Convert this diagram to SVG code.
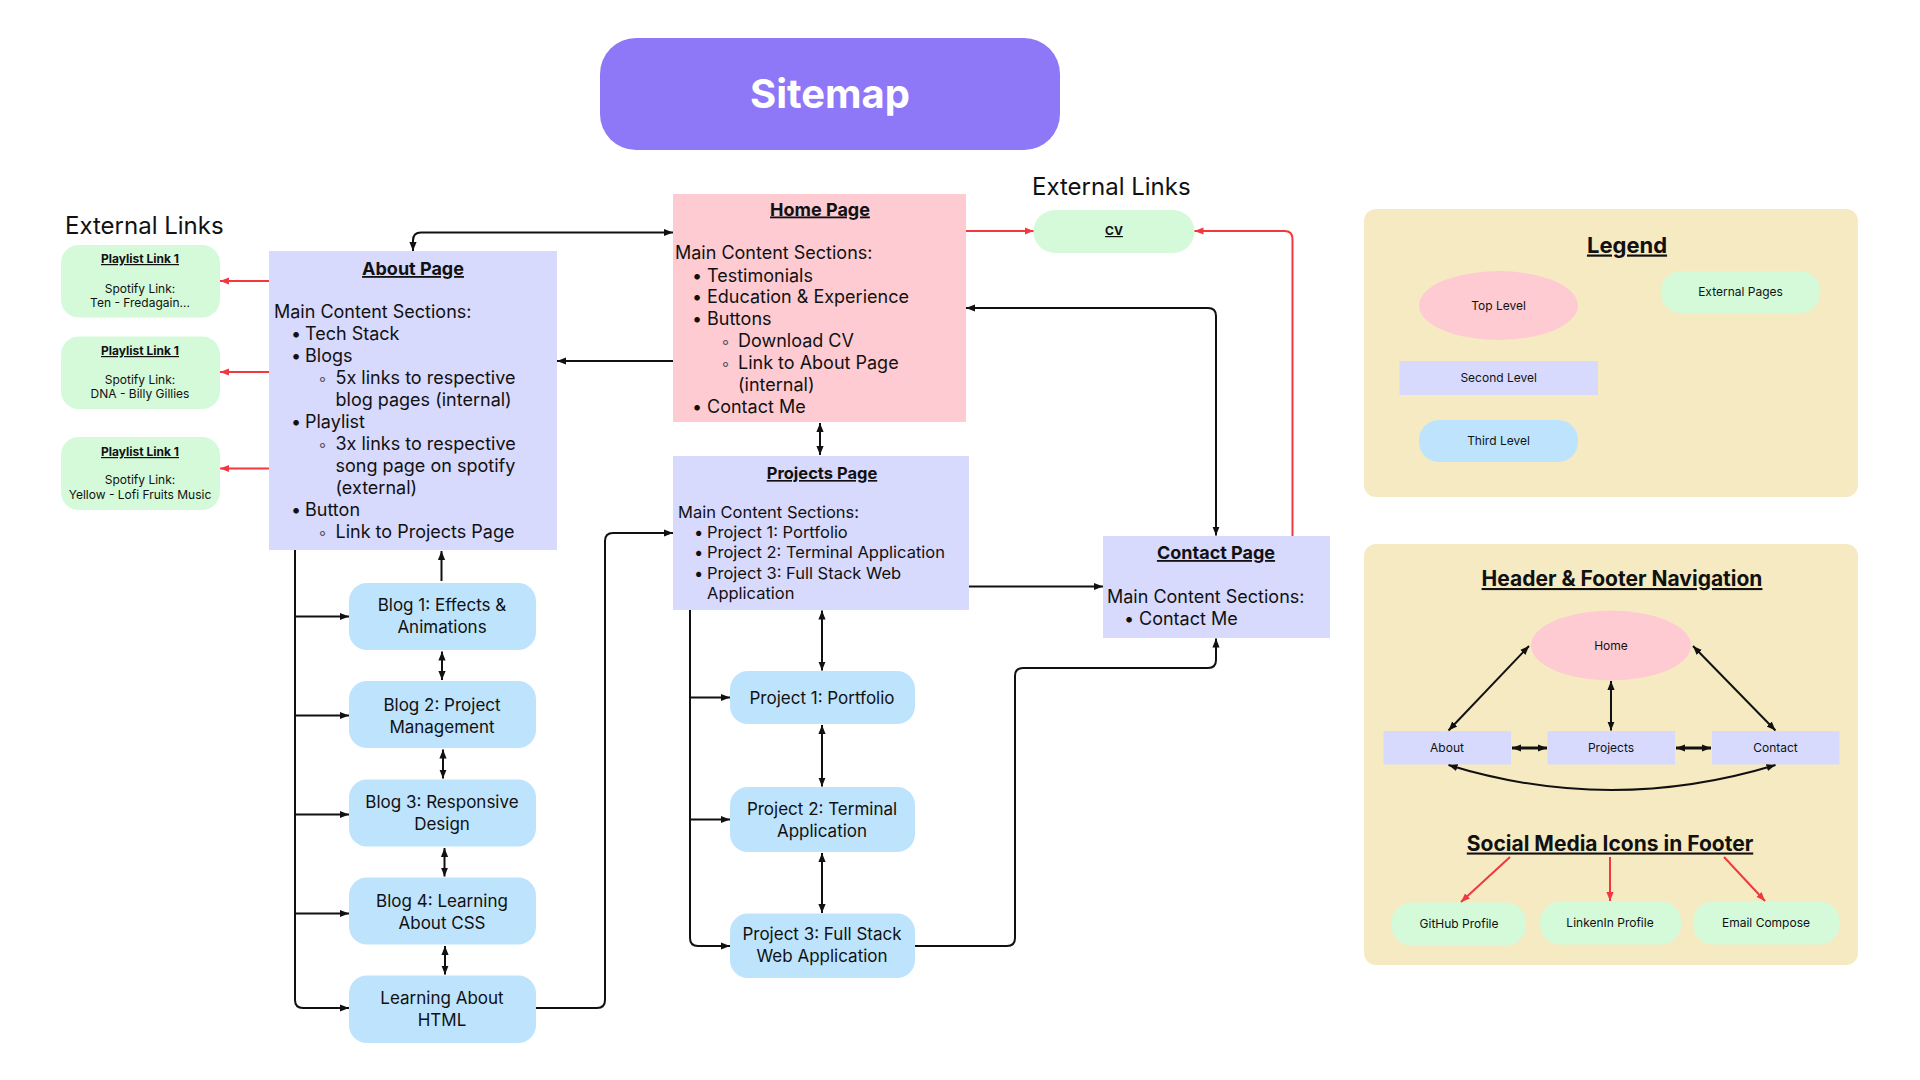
<svg xmlns="http://www.w3.org/2000/svg" width="1920" height="1080" viewBox="0 0 1920 1080">
<defs>
<style>
text{font-family:Inter,"Liberation Sans",sans-serif;fill:#111}
.b{font-weight:700;text-decoration:underline}
.c{text-anchor:middle}
.t18{font-size:18px}
.t17{font-size:17px}
.t16{font-size:16.5px}
.t12{font-size:12px}
.sb{font-size:16px;fill:#555}
.ln{fill:none;stroke:#111;stroke-width:2}
.ln3{fill:none;stroke:#111;stroke-width:3}
.rd{fill:none;stroke:#f0383e;stroke-width:2}
.lav{fill:#d7d9fd}
.pink{fill:#fecbd2}
.blue{fill:#bee3fd}
.mint{fill:#d4fada}
.beige{fill:#f6eac3}
</style>
<marker id="a" viewBox="0 0 10 10" refX="10" refY="5" markerWidth="9" markerHeight="9" markerUnits="userSpaceOnUse" orient="auto-start-reverse"><path d="M0,1 L10,5 L0,9 z" fill="#111"/></marker>
<marker id="r" viewBox="0 0 10 10" refX="10" refY="5" markerWidth="9" markerHeight="9" markerUnits="userSpaceOnUse" orient="auto-start-reverse"><path d="M0,1 L10,5 L0,9 z" fill="#f0383e"/></marker>
</defs>
<rect width="1920" height="1080" fill="#fff"/>

<g id="title">
<rect x="600" y="38" width="460" height="112" rx="36" fill="#8f78f8"/>
<text x="830" y="108" class="c" style="font-size:40px;font-weight:700;fill:#fff">Sitemap</text>
</g>

<g id="ext-left-label"><text x="65" y="234" style="font-size:24px">External Links</text></g>
<g id="ext-right-label"><text x="1032" y="195" style="font-size:24px">External Links</text></g>

<g id="home">
<rect x="673" y="194" width="293" height="228" class="pink"/>
<text x="820" y="215.5" class="c b t18">Home Page</text>
<g class="t18">
<text x="675" y="259">Main Content Sections:</text>
<text x="692" y="281.5">•</text><text x="707" y="281.5">Testimonials</text>
<text x="692" y="303">•</text><text x="707" y="303">Education &amp; Experience</text>
<text x="692" y="325">•</text><text x="707" y="325">Buttons</text>
<text x="721" y="347" class="sb">◦</text><text x="738" y="347">Download CV</text>
<text x="721" y="369" class="sb">◦</text><text x="738" y="369">Link to About Page</text>
<text x="738" y="391">(internal)</text>
<text x="692" y="413">•</text><text x="707" y="413">Contact Me</text>
</g>
</g>

<g id="about">
<rect x="269" y="251" width="288" height="299" class="lav"/>
<text x="413" y="275" class="c b t18">About Page</text>
<g class="t18">
<text x="274" y="318">Main Content Sections:</text>
<text x="291" y="340">•</text><text x="305" y="340">Tech Stack</text>
<text x="291" y="362">•</text><text x="305" y="362">Blogs</text>
<text x="318" y="384" class="sb">◦</text><text x="335.5" y="384">5x links to respective</text>
<text x="335.5" y="405.5">blog pages (internal)</text>
<text x="291" y="428">•</text><text x="305" y="428">Playlist</text>
<text x="318" y="450" class="sb">◦</text><text x="335.5" y="450">3x links to respective</text>
<text x="335.5" y="472">song page on spotify</text>
<text x="335.5" y="494">(external)</text>
<text x="291" y="516">•</text><text x="305" y="516">Button</text>
<text x="318" y="538" class="sb">◦</text><text x="335.5" y="538">Link to Projects Page</text>
</g>
</g>

<g id="projects">
<rect x="673" y="456" width="296" height="154" class="lav"/>
<text x="822" y="479" class="c b t16">Projects Page</text>
<g class="t16">
<text x="678" y="518">Main Content Sections:</text>
<text x="694" y="538">•</text><text x="707" y="538">Project 1: Portfolio</text>
<text x="694" y="558">•</text><text x="707" y="558">Project 2: Terminal Application</text>
<text x="694" y="578.5">•</text><text x="707" y="578.5">Project 3: Full Stack Web</text>
<text x="707" y="599">Application</text>
</g>
</g>

<g id="contact">
<rect x="1103" y="536" width="227" height="102" class="lav"/>
<text x="1216" y="559" class="c b t18">Contact Page</text>
<g class="t18">
<text x="1107" y="603">Main Content Sections:</text>
<text x="1124" y="625">•</text><text x="1139" y="625">Contact Me</text>
</g>
</g>

<g id="cv">
<rect x="1033.5" y="210" width="161" height="43" rx="21.5" class="mint"/>
<text x="1114" y="235" class="c b t12">CV</text>
</g>

<g id="playlist1">
<rect x="61" y="245" width="159" height="72.6" rx="18" class="mint"/>
<text x="140" y="263" class="c b t12">Playlist Link 1</text>
<text x="140" y="292.5" class="c t12">Spotify Link:</text>
<text x="140" y="307" class="c t12">Ten - Fredagain...</text>
</g>
<g id="playlist2">
<rect x="61" y="336.5" width="159" height="72.5" rx="18" class="mint"/>
<text x="140" y="355" class="c b t12">Playlist Link 1</text>
<text x="140" y="384" class="c t12">Spotify Link:</text>
<text x="140" y="398" class="c t12">DNA - Billy Gillies</text>
</g>
<g id="playlist3">
<rect x="61" y="437" width="159" height="73" rx="18" class="mint"/>
<text x="140" y="456" class="c b t12">Playlist Link 1</text>
<text x="140" y="484" class="c t12">Spotify Link:</text>
<text x="140" y="499" class="c t12">Yellow - Lofi Fruits Music</text>
</g>

<g id="blog1"><rect x="349" y="583" width="187" height="67" rx="18" class="blue"/>
<text x="442" y="611" class="c t17">Blog 1: Effects &amp;</text><text x="442" y="633" class="c t17">Animations</text></g>
<g id="blog2"><rect x="349" y="681" width="187" height="67" rx="18" class="blue"/>
<text x="442" y="711" class="c t17">Blog 2: Project</text><text x="442" y="733" class="c t17">Management</text></g>
<g id="blog3"><rect x="349" y="779.5" width="187" height="67" rx="18" class="blue"/>
<text x="442" y="808" class="c t17">Blog 3: Responsive</text><text x="442" y="830" class="c t17">Design</text></g>
<g id="blog4"><rect x="349" y="877.5" width="187" height="67" rx="18" class="blue"/>
<text x="442" y="906.5" class="c t17">Blog 4: Learning</text><text x="442" y="928.5" class="c t17">About CSS</text></g>
<g id="html"><rect x="349" y="975.5" width="187" height="67.5" rx="18" class="blue"/>
<text x="442" y="1004" class="c t17">Learning About</text><text x="442" y="1026" class="c t17">HTML</text></g>

<g id="proj1"><rect x="730" y="671" width="185" height="53" rx="18" class="blue"/>
<text x="822" y="704" class="c t17">Project 1: Portfolio</text></g>
<g id="proj2"><rect x="730" y="787" width="185" height="65" rx="18" class="blue"/>
<text x="822" y="815" class="c t17">Project 2: Terminal</text><text x="822" y="837" class="c t17">Application</text></g>
<g id="proj3"><rect x="730" y="913.5" width="185" height="64.5" rx="18" class="blue"/>
<text x="822" y="940" class="c t17">Project 3: Full Stack</text><text x="822" y="962" class="c t17">Web Application</text></g>

<g id="legend">
<rect x="1364" y="209" width="494" height="288" rx="12" class="beige"/>
<text x="1627" y="252.5" class="c b" style="font-size:22px">Legend</text>
<ellipse cx="1498.5" cy="305.5" rx="79.5" ry="34.5" class="pink"/>
<text x="1498.5" y="309.5" class="c t12">Top Level</text>
<rect x="1661" y="271" width="159" height="42" rx="20" class="mint"/>
<text x="1740.5" y="296" class="c t12">External Pages</text>
<rect x="1399.5" y="361" width="198.5" height="34" class="lav"/>
<text x="1498.7" y="382" class="c t12">Second Level</text>
<rect x="1419" y="420" width="159" height="42" rx="20" class="blue"/>
<text x="1498.5" y="445" class="c t12">Third Level</text>
</g>

<g id="nav-panel">
<rect x="1364" y="544" width="494" height="421" rx="12" class="beige"/>
<text x="1622" y="586" class="c b" style="font-size:21px">Header &amp; Footer Navigation</text>
<g id="nav-home"><ellipse cx="1611" cy="645.5" rx="80" ry="35" class="pink"/><text x="1611" y="649.5" class="c t12">Home</text></g>
<g id="nav-about"><rect x="1383.5" y="731" width="127.5" height="33.5" class="lav"/><text x="1447" y="752" class="c t12">About</text></g>
<g id="nav-projects"><rect x="1547.5" y="731" width="127.5" height="33.5" class="lav"/><text x="1611" y="752" class="c t12">Projects</text></g>
<g id="nav-contact"><rect x="1712" y="731" width="127.5" height="33.5" class="lav"/><text x="1775.5" y="752" class="c t12">Contact</text></g>
<text x="1610" y="850.5" class="c b" style="font-size:21px">Social Media Icons in Footer</text>
<g id="nav-github"><rect x="1391.5" y="902.5" width="134.5" height="43" rx="20" class="mint"/><text x="1459" y="928" class="c t12">GitHub Profile</text></g>
<g id="nav-linkedin"><rect x="1540" y="901.5" width="141" height="43" rx="20" class="mint"/><text x="1610" y="927" class="c t12">LinkenIn Profile</text></g>
<g id="nav-email"><rect x="1693" y="901.5" width="146.5" height="43" rx="20" class="mint"/><text x="1766" y="927" class="c t12">Email Compose</text></g>
</g>

<g id="connectors">
<path class="ln" marker-end="url(#a)" d="M673,361 H557"/>
<path class="ln" marker-start="url(#a)" marker-end="url(#a)" d="M673,232.5 H421 Q413,232.5 413,240.5 V251"/>
<path class="ln" marker-start="url(#a)" marker-end="url(#a)" d="M820,423 V455"/>
<path class="rd" marker-end="url(#r)" d="M269,281 H220"/>
<path class="rd" marker-end="url(#r)" d="M269,372 H220"/>
<path class="rd" marker-end="url(#r)" d="M269,468.5 H220"/>
<path class="ln" marker-end="url(#a)" d="M441.5,581 V551"/>
<path class="ln" marker-end="url(#a)" d="M295,550 V1000 Q295,1008 303,1008 H349"/>
<path class="ln" marker-end="url(#a)" d="M295,616.5 H349"/>
<path class="ln" marker-end="url(#a)" d="M295,715.5 H349"/>
<path class="ln" marker-end="url(#a)" d="M295,814.5 H349"/>
<path class="ln" marker-end="url(#a)" d="M295,913.5 H349"/>
<path class="ln" marker-start="url(#a)" marker-end="url(#a)" d="M442,651.5 V680"/>
<path class="ln" marker-start="url(#a)" marker-end="url(#a)" d="M443,749.5 V778.5"/>
<path class="ln" marker-start="url(#a)" marker-end="url(#a)" d="M444.5,848 V876.5"/>
<path class="ln" marker-start="url(#a)" marker-end="url(#a)" d="M445,946 V974.5"/>
<path class="ln" marker-end="url(#a)" d="M536,1008 H597 Q605,1008 605,1000 V541 Q605,533 613,533 H673"/>
<path class="ln" marker-end="url(#a)" d="M690,610 V938 Q690,946 698,946 H730"/>
<path class="ln" marker-end="url(#a)" d="M690,697.5 H730"/>
<path class="ln" marker-end="url(#a)" d="M690,819.5 H730"/>
<path class="ln" marker-start="url(#a)" marker-end="url(#a)" d="M822,610.5 V670.5"/>
<path class="ln" marker-start="url(#a)" marker-end="url(#a)" d="M822,725 V786.5"/>
<path class="ln" marker-start="url(#a)" marker-end="url(#a)" d="M822,853 V913"/>
<path class="ln" marker-end="url(#a)" d="M915,946 H1007 Q1015,946 1015,938 V676 Q1015,668 1023,668 H1208 Q1216,668 1216,660 V638.5"/>
<path class="ln" marker-end="url(#a)" d="M969,586.5 H1103"/>
<path class="ln" marker-start="url(#a)" marker-end="url(#a)" d="M966,308 H1208 Q1216,308 1216,316 V535.5"/>
<path class="rd" marker-end="url(#r)" d="M966,231 H1033.5"/>
<path class="rd" marker-end="url(#r)" d="M1292.5,536 V239 Q1292.5,231 1284.5,231 H1194.5"/>
<path class="ln" marker-start="url(#a)" marker-end="url(#a)" d="M1529,646 L1448.5,730.5"/>
<path class="ln" marker-start="url(#a)" marker-end="url(#a)" d="M1693,646 L1775.5,730.5"/>
<path class="ln" marker-start="url(#a)" marker-end="url(#a)" d="M1611,681 V730.5"/>
<path class="ln3" marker-start="url(#a)" marker-end="url(#a)" d="M1512,748 H1547"/>
<path class="ln3" marker-start="url(#a)" marker-end="url(#a)" d="M1676,748 H1711"/>
<path class="ln" marker-start="url(#a)" marker-end="url(#a)" d="M1448.5,765 Q1611,815 1775.5,765"/>
<path class="rd" marker-end="url(#r)" d="M1510,857 L1461,902"/>
<path class="rd" marker-end="url(#r)" d="M1610,857 V901"/>
<path class="rd" marker-end="url(#r)" d="M1724,857 L1765,901"/>
</g>
</svg>
